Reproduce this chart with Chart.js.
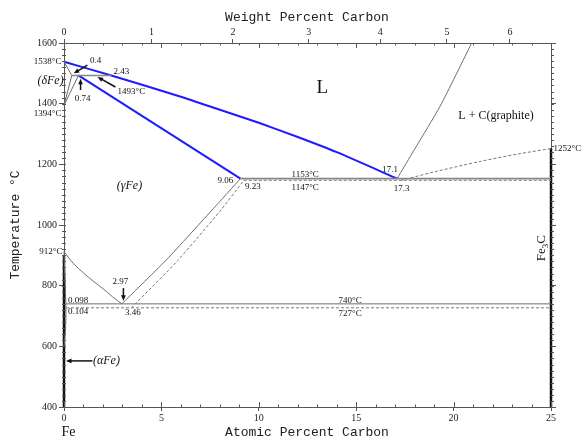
<!DOCTYPE html>
<html><head><meta charset="utf-8">
<script src="https://cdn.jsdelivr.net/npm/chart.js@4/dist/chart.umd.min.js"></script>
<style>html,body{margin:0;padding:0;background:#fff;} canvas{display:block;}</style>
</head><body>
<canvas id="c" width="582" height="439"></canvas>
<script>
// ---- axes ----
const ATOMIC_TICKS = [0, 5, 10, 15, 20, 25];
const TEMP_TICKS = [400, 600, 800, 1000, 1200, 1400, 1600];
const WEIGHT_LABELS = ['0', '1', '2', '3', '4', '5', '6'];
const WEIGHT_AT_POS = [0, 4.49, 8.67, 12.57, 16.23, 19.66, 22.89]; // atomic % equivalent of each weight % tick

// ---- phase boundaries: [atomic % C, temperature °C] ----
const liquidus      = [[0,1538],[2.43,1493],[6,1423],[8,1380],[10,1337],[12,1290],[14,1240],[17.1,1153]];
const solidusGamma  = [[0.74,1493],[9.06,1153]];
const deltaSolidus  = [[0,1538],[0.4,1493]];
const deltaSolvus   = [[0.4,1493],[0,1394]];
const gammaDelta    = [[0.74,1493],[0,1394]];
const peritectic    = [[0.4,1493],[2.43,1493]];
const eutecticGr    = [[9.06,1153],[25,1153]];
const eutecticCm    = [[9.23,1147],[25,1147]];
const liquidusGr    = [[17.1,1153],[18,1250],[19.31,1392],[20.93,1600]];
const liquidusCm    = [[17.3,1147],[19,1175],[21.4,1210],[23.3,1234],[25,1252]];
const acmGr         = [[2.97,740],[5.3,888],[7.68,1055],[9.06,1153]];
const acmCm         = [[3.46,727],[5.8,880],[8.0,1045],[9.23,1147]];
const a3            = [[0,912],[0.5,872],[1,842],[1.5,815],[2,790],[2.5,763],[2.97,740]];
const eutectoidGr   = [[0.098,740],[25,740]];
const eutectoidCm   = [[0.104,727],[25,727]];
const alphaGamma    = [[0,912],[0.098,740]];
const alphaSolvus   = [[0.098,740],[0.1,700],[0.08,660],[0.03,620],[0,600]];
const feLine        = [[0,400],[0,900]];
const fe3cLine      = [[25,400],[25,1252]];

// ---- annotations: [text, atomic %, °C, align, font] ----
const SMALL = '9px "Liberation Serif"';
const labels = [
  ['L', 13.26, 1452, 'center', '19px "Liberation Serif"'],
  ['L + C(graphite)', 22.18, 1359, 'center', '12px "Liberation Serif"'],
  ['(γFe)', 3.36, 1128, 'center', 'italic 12px "Liberation Serif"'],
  ['(δFe)', -0.69, 1475, 'center', 'italic 12px "Liberation Serif"'],
  ['(αFe)', 2.18, 552, 'center', 'italic 12px "Liberation Serif"'],
  ['1538°C', -0.13, 1538, 'right', SMALL],
  ['1394°C', -0.13, 1366, 'right', SMALL],
  ['912°C', -0.08, 912, 'right', SMALL],
  ['0.4', 1.62, 1541, 'center', SMALL],
  ['2.43', 2.95, 1504, 'center', SMALL],
  ['1493°C', 3.46, 1438, 'center', SMALL],
  ['0.74', 0.95, 1415, 'center', SMALL],
  ['9.06', 8.28, 1145, 'center', SMALL],
  ['9.23', 9.70, 1125, 'center', SMALL],
  ['1153°C', 12.38, 1165, 'center', SMALL],
  ['1147°C', 12.38, 1122, 'center', SMALL],
  ['17.1', 16.74, 1181, 'center', SMALL],
  ['17.3', 17.33, 1120, 'center', SMALL],
  ['2.97', 2.90, 812, 'center', SMALL],
  ['0.098', 0.72, 750, 'center', SMALL],
  ['0.104', 0.72, 714, 'center', SMALL],
  ['3.46', 3.54, 711, 'center', SMALL],
  ['740°C', 14.69, 750, 'center', SMALL],
  ['727°C', 14.69, 707, 'center', SMALL],
  ['1252°C', 25.13, 1251, 'left', SMALL],
  ['Fe', 0.23, 318, 'center', '14px "Liberation Serif"']
];
// arrows: [tail at%, tail °C, head at%, head °C]
const arrows = [
  [1.2, 1527, 0.5, 1500],
  [2.64, 1455, 1.72, 1488],
  [0.85, 1445, 0.85, 1482],
  [3.05, 792, 3.05, 750],
  [1.46, 552, 0.1, 552]
];

function ds(pts, color, width, dash, tension, clip) {
  return {
    data: pts.map(p => ({x: p[0], y: p[1]})),
    showLine: true, borderColor: color, borderWidth: width,
    borderDash: dash || [], tension: tension || 0, pointRadius: 0,
    fill: false, clip: clip === undefined ? 4 : clip
  };
}
const GRAY = '#6e6e6e', BLUE = '#1c1cff';
const datasets = [
  ds(deltaSolidus, GRAY, 1),
  ds(deltaSolvus, GRAY, 1),
  ds(gammaDelta, GRAY, 1),
  ds(peritectic, '#888', 1.5),
  ds(eutecticGr, '#858585', 1.8),
  ds(eutecticCm, '#888', 1, [3, 2]),
  ds(liquidusGr, GRAY, 1, null, 0.2),
  ds(liquidusCm, '#777', 1, [3, 2], 0.3),
  ds(acmGr, GRAY, 1, null, 0.15),
  ds(acmCm, '#777', 1, [3, 2], 0.15),
  ds(a3, GRAY, 1, null, 0.3),
  ds(eutectoidGr, GRAY, 1),
  ds(eutectoidCm, '#777', 1, [3, 2]),
  ds(alphaGamma, GRAY, 1),
  ds(alphaSolvus, GRAY, 1, null, 0.2),
  ds(feLine, '#111', 2.5, null, 0, false),
  ds(fe3cLine, '#111', 2.5, null, 0, false),
  ds(liquidus, BLUE, 2, null, 0.2),
  ds(solidusGamma, BLUE, 2)
];

const tickFont = {family: 'Liberation Serif', size: 10};
const deco = {
  id: 'deco',
  afterDraw(chart) {
    const ctx = chart.ctx, X = chart.scales.x, Y = chart.scales.y, ca = chart.chartArea;
    const px = v => X.getPixelForValue(v), py = v => Y.getPixelForValue(v);
    ctx.save();
    ctx.strokeStyle = '#555'; ctx.lineWidth = 1;
    const seg = (a, b, c, d) => { ctx.beginPath(); ctx.moveTo(a, b); ctx.lineTo(c, d); ctx.stroke(); };
    for (let v = 0; v <= 25; v++) {
      const x = Math.round(px(v)) + 0.5, L = v % 5 === 0 ? 5 : 2.5;
      seg(x, ca.bottom, x, ca.bottom - L);
      seg(x, ca.top, x, ca.top + L);
    }
    for (let t = 400; t <= 1600; t += 20) {
      const y = Math.round(py(t)) + 0.5;
      seg(ca.left - 2, y, ca.left + 2, y);
      seg(ca.right, y, ca.right + 3, y);
    }
    // annotations
    ctx.fillStyle = '#111'; ctx.textBaseline = 'middle';
    for (const [s, a, t, al, f] of labels) {
      ctx.font = f; ctx.textAlign = al; ctx.fillText(s, px(a), py(t));
    }
    // arrows
    ctx.strokeStyle = '#111'; ctx.lineWidth = 1.5;
    for (const [a1, t1, a2, t2] of arrows) {
      const x1 = px(a1), y1 = py(t1), x2 = px(a2), y2 = py(t2);
      const ang = Math.atan2(y2 - y1, x2 - x1), h = 6;
      seg(x1, y1, x2 - Math.cos(ang) * 3, y2 - Math.sin(ang) * 3);
      ctx.beginPath();
      ctx.moveTo(x2, y2);
      ctx.lineTo(x2 - h * Math.cos(ang - 0.4), y2 - h * Math.sin(ang - 0.4));
      ctx.lineTo(x2 - h * Math.cos(ang + 0.4), y2 - h * Math.sin(ang + 0.4));
      ctx.closePath(); ctx.fill();
    }
    // Fe3C rotated
    ctx.save();
    ctx.translate(px(24.54), py(924));
    ctx.rotate(-Math.PI / 2);
    ctx.textAlign = 'left'; ctx.textBaseline = 'middle';
    ctx.font = '13px "Liberation Serif"';
    const w1 = ctx.measureText('Fe').width;
    ctx.font = '9px "Liberation Serif"';
    const w2 = ctx.measureText('3').width;
    ctx.font = '13px "Liberation Serif"';
    const w3 = ctx.measureText('C').width;
    let x0 = -(w1 + w2 + w3) / 2;
    ctx.fillText('Fe', x0, 0);
    ctx.font = '9px "Liberation Serif"'; ctx.fillText('3', x0 + w1, 4);
    ctx.font = '13px "Liberation Serif"'; ctx.fillText('C', x0 + w1 + w2, 0);
    ctx.restore();
    // axis titles
    ctx.font = '13px "Liberation Mono"'; ctx.textAlign = 'center'; ctx.fillStyle = '#222';
    ctx.fillText('Weight Percent Carbon', 307, 18);
    ctx.fillText('Atomic Percent Carbon', 307, 433);
    ctx.save();
    ctx.translate(16, 225); ctx.rotate(-Math.PI / 2);
    ctx.fillText('Temperature °C', 0, 0);
    ctx.restore();
    ctx.restore();
  }
};

const plain = v => String(v);
new Chart(document.getElementById('c'), {
  type: 'scatter',
  data: {datasets},
  plugins: [deco],
  options: {
    responsive: false, animation: false, devicePixelRatio: 1,
    layout: {padding: 0},
    plugins: {legend: {display: false}, tooltip: {enabled: false}},
    scales: {
      x: {
        type: 'linear', axis: 'x', position: 'bottom', min: 0, max: 25,
        afterBuildTicks: s => { s.ticks = ATOMIC_TICKS.map(v => ({value: v})); },
        ticks: {font: tickFont, color: '#222', padding: 1, maxRotation: 0, autoSkip: false, callback: plain},
        grid: {drawOnChartArea: false, tickLength: 4, color: '#555'},
        border: {color: '#555', width: 1},
        afterFit: s => { s.height = 32; }
      },
      x2: {
        type: 'linear', axis: 'x', position: 'top', min: 0, max: 25,
        afterBuildTicks: s => { s.ticks = WEIGHT_AT_POS.map(v => ({value: v})); },
        ticks: {font: tickFont, color: '#222', padding: 1, maxRotation: 0, autoSkip: false,
                callback: (v, i) => WEIGHT_LABELS[i]},
        grid: {drawOnChartArea: false, tickLength: 4, color: '#555'},
        border: {color: '#555', width: 1},
        afterFit: s => { s.height = 43; }
      },
      y: {
        type: 'linear', axis: 'y', position: 'left', min: 400, max: 1600,
        afterBuildTicks: s => { s.ticks = TEMP_TICKS.map(v => ({value: v})); },
        ticks: {font: tickFont, color: '#222', padding: 2, autoSkip: false, callback: plain},
        grid: {drawOnChartArea: false, tickLength: 5, color: '#555'},
        border: {color: '#555', width: 1},
        afterFit: s => { s.width = 64; }
      },
      y2: {
        type: 'linear', axis: 'y', position: 'right', min: 400, max: 1600,
        afterBuildTicks: s => { s.ticks = TEMP_TICKS.map(v => ({value: v})); },
        ticks: {font: tickFont, callback: () => ''},
        grid: {drawOnChartArea: false, tickLength: 5, color: '#555'},
        border: {color: '#555', width: 1},
        afterFit: s => { s.width = 31; }
      }
    }
  }
});
</script>
</body></html>
